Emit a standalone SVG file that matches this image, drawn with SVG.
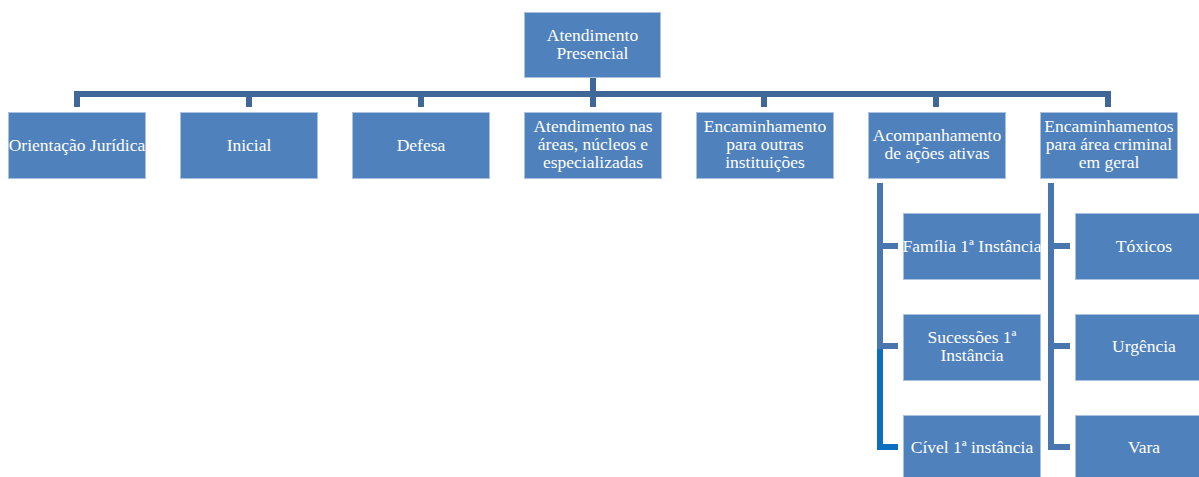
<svg xmlns="http://www.w3.org/2000/svg" width="1199" height="477" viewBox="0 0 1199 477">
  <style>
    .box { fill: #4F81BD; stroke: #A9C0DE; stroke-width: 1; }
    .lbl { font-family: "Liberation Serif", "Times New Roman", serif; font-size: 17.5px; fill: #FFFFFF; text-anchor: middle; }
    .bus { fill: none; stroke: #3F6898; stroke-width: 6; stroke-linejoin: miter; }
    .sub { fill: none; stroke: #4A76AF; stroke-width: 6; stroke-linejoin: miter; }
    .hi  { fill: none; stroke: #0A6FC1; stroke-width: 6; stroke-linejoin: miter; }
  </style>
  <rect width="1199" height="477" fill="#FFFFFF"/>

  <!-- connectors -->
  <g id="connectors">
    <path class="bus" d="M593,77 V107"/>
    <path class="bus" d="M77,107 V94 H1108 V107"/>
    <path class="bus" d="M249,94 V107 M421,94 V107 M764,94 V107 M936,94 V107"/>
    <!-- children of "Acompanhamento de ações ativas" -->
    <path class="hi" d="M880,349 V447 H898"/>
    <path class="sub" d="M880,183 V346 H898 M880,246 H898"/>
    <!-- children of "Encaminhamentos para área criminal em geral" -->
    <path class="sub" d="M1051,183 V447 H1070 M1051,246 H1070 M1051,346 H1070"/>
  </g>

  <g id="n-root">
    <rect class="box" x="524.5" y="12.5" width="136" height="65"/>
    <text class="lbl" x="592.5" y="40.5">Atendimento</text>
    <text class="lbl" x="592.5" y="58.5">Presencial</text>
  </g>

  <g id="n-orientacao">
    <rect class="box" x="8.5" y="112.5" width="137" height="66"/>
    <text class="lbl" x="77" y="150.5">Orientação Jurídica</text>
  </g>
  <g id="n-inicial">
    <rect class="box" x="180.5" y="112.5" width="137" height="66"/>
    <text class="lbl" x="249" y="150.5">Inicial</text>
  </g>
  <g id="n-defesa">
    <rect class="box" x="352.5" y="112.5" width="137" height="66"/>
    <text class="lbl" x="421" y="150.5">Defesa</text>
  </g>
  <g id="n-areas">
    <rect class="box" x="524.5" y="112.5" width="137" height="66"/>
    <text class="lbl" x="593" y="132">Atendimento nas</text>
    <text class="lbl" x="593" y="150">áreas, núcleos e</text>
    <text class="lbl" x="593" y="168">especializadas</text>
  </g>
  <g id="n-encaminhamento">
    <rect class="box" x="696.5" y="112.5" width="137" height="66"/>
    <text class="lbl" x="765" y="132">Encaminhamento</text>
    <text class="lbl" x="765" y="150">para outras</text>
    <text class="lbl" x="765" y="168">instituições</text>
  </g>
  <g id="n-acompanhamento">
    <rect class="box" x="868.5" y="112.5" width="137" height="66"/>
    <text class="lbl" x="937" y="141">Acompanhamento</text>
    <text class="lbl" x="937" y="159">de ações ativas</text>
  </g>
  <g id="n-criminal">
    <rect class="box" x="1040.5" y="112.5" width="137" height="66"/>
    <text class="lbl" x="1109" y="132">Encaminhamentos</text>
    <text class="lbl" x="1109" y="150">para área criminal</text>
    <text class="lbl" x="1109" y="168">em geral</text>
  </g>

  <g id="n-familia">
    <rect class="box" x="903.5" y="213.5" width="137" height="66"/>
    <text class="lbl" x="972" y="251.5">Família 1ª Instância</text>
  </g>
  <g id="n-sucessoes">
    <rect class="box" x="903.5" y="314.5" width="137" height="66"/>
    <text class="lbl" x="972" y="342.5">Sucessões 1ª</text>
    <text class="lbl" x="972" y="360.5">Instância</text>
  </g>
  <g id="n-civel">
    <rect class="box" x="903.5" y="415.5" width="137" height="66"/>
    <text class="lbl" x="972" y="453">Cível 1ª instância</text>
  </g>

  <g id="n-toxicos">
    <rect class="box" x="1075.5" y="213.5" width="137" height="66"/>
    <text class="lbl" x="1144" y="251.5">Tóxicos</text>
  </g>
  <g id="n-urgencia">
    <rect class="box" x="1075.5" y="314.5" width="137" height="66"/>
    <text class="lbl" x="1144" y="352">Urgência</text>
  </g>
  <g id="n-vara">
    <rect class="box" x="1075.5" y="415.5" width="137" height="66"/>
    <text class="lbl" x="1144" y="453">Vara</text>
  </g>
</svg>
